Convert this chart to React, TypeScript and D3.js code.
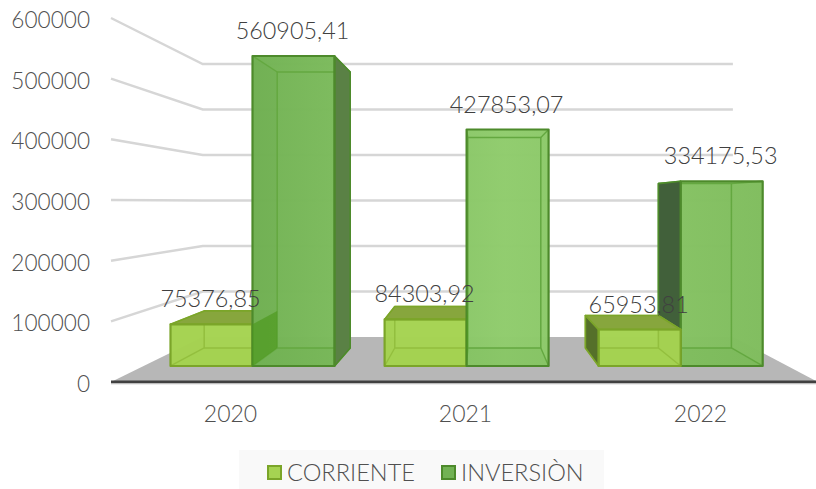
import React from "react"
import * as d3 from "d3"

const categories = ["2020", "2021", "2022"]
const seriesNames = ["CORRIENTE", "INVERSIÒN"]
const corriente = [75376.85, 84303.92, 65953.81]
const inversion = [560905.41, 427853.07, 334175.53]
const yTicks = [0, 100000, 200000, 300000, 400000, 500000, 600000]
const labelTexts = [
  ["75376,85", "84303,92", "65953,81"],
  ["560905,41", "427853,07", "334175,53"],
]

const width = 816
const height = 489
const font = "Lato, 'Noto Sans', sans-serif"
const textColor = "#505050"

// the picture is a perspective box: x and y scales work on the front plane,
// depth shrinks everything towards the vanishing point
const vx = 477.7
const vy = 202
const wallDepth = 0.75
const barFront = 0.911
const barBack = 0.811

const wallLeft = 111
const x0 = d3.scaleBand().domain(categories).range([113, 818])
const x1 = d3.scaleBand().domain(seriesNames).range([0, x0.bandwidth()]).paddingInner(0).paddingOuter(0.305)
const y = d3.scaleLinear().domain([0, 600000]).range([382, 18])

const project = (X: number, Y: number, s: number) => [vx + s * (X - vx), vy + s * (Y - vy)]
const poly = (pts: number[][]) => pts.map((p) => p[0].toFixed(1) + "," + p[1].toFixed(1)).join(" ")

const styles = [
  { front: "#a6d352", inner: "#93bf3e", line: "#7ba529", top: "#87a63d", left: "#55702a", right: "#6f8f2c", bottom: "#9ccb45", shade: "#9ccb45" },
  { front: "url(#invGrad)", inner: "#64a840", line: "#4d8a2b", top: "#68a848", left: "#41603a", right: "#5a8145", bottom: "#64a648", shade: "#5f9f42" },
]

function barGeometry(cat: string, si: number, value: number) {
  const xa = (x0(cat) as number) + (x1(seriesNames[si]) as number)
  const xb = xa + x1.bandwidth()
  const yt = y(value)
  const yb = y(0)
  const f = [project(xa, yt, barFront), project(xb, yt, barFront), project(xb, yb, barFront), project(xa, yb, barFront)]
  const b = [project(xa, yt, barBack), project(xb, yt, barBack), project(xb, yb, barBack), project(xa, yb, barBack)]
  return { f, b, leftOut: xa > vx, rightOut: xb < vx, topOut: yt > vy }
}

function Bar({ cat, si, value }: { cat: string; si: number; value: number }) {
  const st = styles[si]
  const { f, b, leftOut, rightOut, topOut } = barGeometry(cat, si, value)
  const face = (i: number, j: number) => [f[i], f[j], b[j], b[i]]

  return (
    <g strokeLinejoin="round">
      <polygon points={poly(b)} fill={st.front} fillOpacity={0.9} />
      <polygon points={poly(face(3, 2))} fill={st.bottom} fillOpacity={0.95} />
      {!leftOut && <polygon points={poly(face(0, 3))} fill={st.shade} fillOpacity={0.9} />}
      {!rightOut && <polygon points={poly(face(1, 2))} fill={st.front} fillOpacity={0.9} />}
      {!topOut && <polygon points={poly(face(0, 1))} fill={st.front} fillOpacity={0.9} />}
      <polygon points={poly(f)} fill={st.front} fillOpacity={0.84} />
      {/* edges of the back of the box, seen through the glass front */}
      <polygon points={poly(b)} fill="none" stroke={st.inner} strokeWidth={1.5} />
      {[0, 1, 2, 3].map((i) => (
        <line key={i} x1={f[i][0]} y1={f[i][1]} x2={b[i][0]} y2={b[i][1]} stroke={st.inner} strokeWidth={1.4} />
      ))}
      {/* faces that stick out past the front are solid */}
      {leftOut && <polygon points={poly(face(0, 3))} fill={st.left} stroke={st.line} strokeWidth={1.6} />}
      {rightOut && <polygon points={poly(face(1, 2))} fill={st.right} stroke={st.line} strokeWidth={1.6} />}
      {topOut && <polygon points={poly(face(0, 1))} fill={st.top} stroke={st.line} strokeWidth={1.6} />}
      <polygon points={poly(f)} fill="none" stroke={st.line} strokeWidth={2.2} />
    </g>
  )
}

export default function App() {
  const values = [corriente, inversion]

  const bars: { cat: string; si: number; value: number; dist: number }[] = []
  categories.forEach((cat, i) => {
    seriesNames.forEach((name, si) => {
      const mid = (x0(cat) as number) + (x1(name) as number) + x1.bandwidth() / 2
      bars.push({ cat, si, value: values[si][i], dist: Math.abs(mid - vx) })
    })
  })
  // far from the vanishing point first, so the nearer ones overlap them
  bars.sort((a, b) => b.dist - a.dist)

  const right = x0.range()[1]

  return (
    <svg width={width} height={height} style={{ position: "absolute", left: 0, top: 0, background: "#fff" }}>
      <defs>
        <linearGradient id="invGrad" gradientUnits="userSpaceOnUse" x1={250} x2={760} y1={0} y2={0}>
          <stop offset="0" stopColor="#72b254" />
          <stop offset="0.5" stopColor="#90cc6d" />
          <stop offset="1" stopColor="#80bd5e" />
        </linearGradient>
      </defs>

      {yTicks.slice(1).map((t) => {
        const a = project(wallLeft, y(t), 1)
        const c = project(wallLeft, y(t), wallDepth)
        const d = project(right, y(t), wallDepth)
        return <polyline key={t} points={poly([a, c, d])} fill="none" stroke="#d6d6d6" strokeWidth={2.4} />
      })}

      <polygon
        points={poly([project(wallLeft, y(0), 1), project(wallLeft, y(0), wallDepth), project(right, y(0), wallDepth), project(right, y(0), 1)])}
        fill="#b7b7b7"
      />
      <line x1={wallLeft} x2={right} y1={y(0)} y2={y(0)} stroke="#404040" strokeWidth={3} />
      <line x1={wallLeft} x2={right} y1={y(0) + 2} y2={y(0) + 2} stroke="#d9d9d9" strokeWidth={1} />

      {bars.map((d) => (
        <Bar key={d.cat + d.si} cat={d.cat} si={d.si} value={d.value} />
      ))}

      {/* corriente side showing through the inversion bar next to it */}
      {bars.filter((d) => d.si === 0).map((d) => {
        const { f, b, rightOut } = barGeometry(d.cat, d.si, d.value)
        if (!rightOut) return null
        return <polygon key={d.cat} points={poly([f[1], b[1], b[2], f[2]])} fill="#4f9a20" fillOpacity={0.7} />
      })}

      {yTicks.map((t) => (
        <text key={t} x={90} y={y(t) + 10} textAnchor="end" fontFamily={font} fontWeight={300} fontSize={22.6} fill={textColor}>
          {t}
        </text>
      ))}

      {categories.map((c) => (
        <text key={c} x={(x0(c) as number) + x0.bandwidth() / 2} y={422} textAnchor="middle" fontFamily={font} fontWeight={300} fontSize={23} fill={textColor}>
          {c}
        </text>
      ))}

      {seriesNames.map((name, si) =>
        categories.map((cat, i) => {
          const xa = (x0(cat) as number) + (x1(name) as number)
          const p = project(xa + x1.bandwidth() / 2, y(values[si][i]), barFront)
          return (
            <text key={name + cat} x={p[0] - 1} y={p[1] - 17} textAnchor="middle" fontFamily={font} fontWeight={300} fontSize={23.4} fill="#404040">
              {labelTexts[si][i]}
            </text>
          )
        })
      )}

      <g>
        <rect x={239} y={450} width={365} height={39} fill="#f9f9f9" />
        <rect x={268} y={466} width={13} height={13} fill="#a6d352" stroke="#7ba529" strokeWidth={2} />
        <text x={287} y={481} fontFamily={font} fontWeight={300} fontSize={23.6} fill={textColor}>{seriesNames[0]}</text>
        <rect x={442} y={466} width={13} height={13} fill="#72b254" stroke="#4d8a2b" strokeWidth={2} />
        <text x={461} y={481} fontFamily={font} fontWeight={300} fontSize={23.6} fill={textColor}>{seriesNames[1]}</text>
      </g>
    </svg>
  )
}
